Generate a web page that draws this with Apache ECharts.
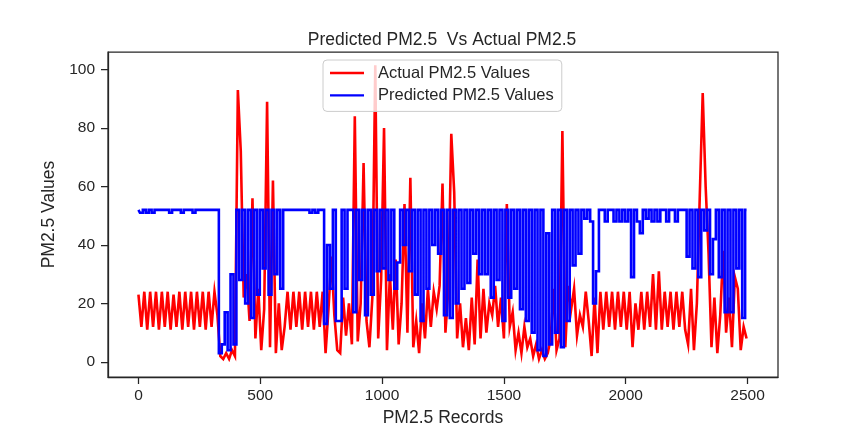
<!DOCTYPE html>
<html>
<head>
<meta charset="utf-8">
<script src="https://cdn.jsdelivr.net/npm/echarts@6/dist/echarts.min.js"></script>
<style>
html,body{margin:0;padding:0;background:#fff;}
#chart{width:864px;height:432px;}
</style>
</head>
<body>
<div id="chart"></div>
<script>
// Sampling grid: one value every 12 records (records 0..2496)
const STEP = 12;
const xTicks = [0, 500, 1000, 1500, 2000, 2500];
const yTicks = [0, 20, 40, 60, 80, 100];

const actualValues = [
  23,12,24,11,24,12,24,11,24,12,24,11,23,12,24,11,24,12,24,11,24,12,24,11,24,12,24,16,
  2,1,3,1,4,2,93,72,22,30,14,56,8,25,4,18,89,5,62,3,20,4,
  12,24,11,24,12,24,11,24,12,24,11,24,12,24,
  3,18,36,16,4,3,22,9,20,6,84,7,20,68,14,5,22,101.5,8,28,80,4,30,11,35,6,20,54,10,63,
  5,14,3,20,8,25,12,24,18,26,61,10,25,78,58,8,20,5,15,4,22,6,35,8,25,
  10,20,16,26,12,22,8,54,12,17,4,10,3,12,5,8,2,6,1,4,1,3,8,25,4,
  8,79,5,26,18,25,9,16,12,24,14,2,22,3,24,11,24,12,24,11,24,12,24,11,24,5,
  20,11,24,11,24,12,30,11,31,11,24,12,24,11,24,12,24,11,6,
  25,4,20,57,92,60,37,5,22,3,16,38,10,22,5,29,25,4,12,8
];

const predictedValues = [
  52,51,52,51,52,51,52,52,52,52,52,51,52,52,52,51,52,52,52,51,52,52,52,52,52,52,52,52,
  3,6,17,4,30,6,52,28,52,20,52,15,52,23,52,32,52,23,52,30,52,25,
  52,52,52,52,52,52,52,52,52,51,52,51,52,52,
  13,40,25,52,14,14,52,25,52,52,17,52,28,52,16,52,23,52,31,52,32,52,28,52,25,34,52,40,52,31,
  52,23,52,14,52,25,52,40,52,37,52,16,52,15,52,20,52,25,52,27,52,37,52,30,52,
  30,52,22,52,28,52,14,52,22,52,25,52,18,52,14,52,10,52,4,52,2,44,6,52,10,
  52,5,52,14,52,33,52,37,52,49,52,48,20,31,52,52,48,52,52,48,52,48,52,48,52,29,
  52,48,44,52,49,52,48,52,48,52,52,48,52,52,48,52,52,52,36,
  52,32,52,29,52,45,52,30,42,52,29,52,17,52,17,52,32,52,15,52
];

const pairs = arr => arr.map((v, i) => [i * STEP, v]);

const FONT = "'Liberation Sans', Arial, 'DejaVu Sans', sans-serif";
const TXT = '#262626';

const chart = echarts.init(document.getElementById('chart'), null, {renderer: 'canvas'});
chart.setOption({
  animation: false,
  backgroundColor: '#ffffff',
  textStyle: {fontFamily: FONT, color: TXT},
  title: {
    text: 'Predicted PM2.5  Vs Actual PM2.5',
    left: 437, top: 26, textAlign: 'center',
    textStyle: {fontFamily: FONT, fontSize: 17.5, fontWeight: 'normal', color: TXT}
  },
  legend: {
    orient: 'vertical',
    left: 323, top: 60,
    padding: [4, 8, 7, 7],
    itemGap: 4.4,
    itemWidth: 34, itemHeight: 2.4,
    icon: 'rect',
    borderColor: '#cccccc', borderWidth: 1, borderRadius: 4,
    backgroundColor: 'rgba(255,255,255,0.8)',
    textStyle: {fontFamily: FONT, fontSize: 16.5, color: TXT, lineHeight: 18, padding: [0, 0, 0, 9]},
    data: ['Actual PM2.5 Values', 'Predicted PM2.5 Values']
  },
  grid: {
    left: 108, right: 86, top: 52, bottom: 54,
    show: true, borderColor: TXT, borderWidth: 1.25, backgroundColor: 'transparent'
  },
  xAxis: {
    type: 'value', min: -125, max: 2625,
    name: 'PM2.5 Records', nameLocation: 'middle', nameGap: 29,
    nameTextStyle: {fontFamily: FONT, fontSize: 17.5, color: TXT},
    axisLine: {show: true, onZero: false, lineStyle: {color: TXT, width: 1.25}},
    axisTick: {show: true, inside: false, length: 7, lineStyle: {color: TXT, width: 1.25}, customValues: xTicks},
    axisLabel: {show: true, margin: 11, fontFamily: FONT, fontSize: 15.5, color: TXT, customValues: xTicks,
      formatter: v => String(v)},
    splitLine: {show: false}
  },
  yAxis: {
    type: 'value', min: -5.2, max: 106,
    name: 'PM2.5 Values', nameLocation: 'middle', nameGap: 42,
    nameTextStyle: {fontFamily: FONT, fontSize: 17.5, color: TXT},
    axisLine: {show: true, onZero: false, lineStyle: {color: TXT, width: 1.25}},
    axisTick: {show: true, inside: false, length: 7, lineStyle: {color: TXT, width: 1.25}, customValues: yTicks},
    axisLabel: {show: true, margin: 13, fontFamily: FONT, fontSize: 15.5, color: TXT, customValues: yTicks,
      formatter: v => String(v)},
    splitLine: {show: false}
  },
  series: [
    {
      name: 'Actual PM2.5 Values', type: 'line', data: pairs(actualValues),
      showSymbol: false, symbol: 'none', sampling: null,
      lineStyle: {color: '#ff0000', width: 2.6, join: 'miter'}, itemStyle: {color: '#ff0000'}
    },
    {
      name: 'Predicted PM2.5 Values', type: 'line', data: pairs(predictedValues),
      step: 'middle',
      showSymbol: false, symbol: 'none', sampling: null,
      lineStyle: {color: '#0000ff', width: 2.6, join: 'miter'}, itemStyle: {color: '#0000ff'}
    }
  ]
});
</script>
</body>
</html>
